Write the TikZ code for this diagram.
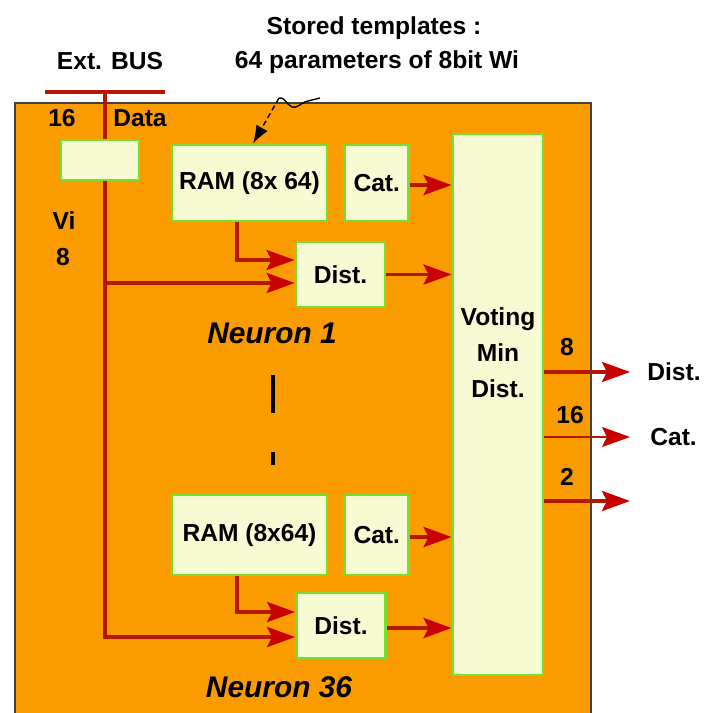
\documentclass[tikz,border=0pt]{standalone}
\usepackage{fontspec}
\setmainfont{Liberation Sans}
\usetikzlibrary{arrows.meta,positioning}

\definecolor{chiporange}{RGB}{250,155,0}
\definecolor{boxfill}{RGB}{248,250,212}
\definecolor{boxline}{RGB}{115,225,45}
\definecolor{wirered}{RGB}{180,22,0}
\definecolor{tipred}{RGB}{200,0,0}

\tikzset{
  unit/.style={draw=boxline, fill=boxfill, line width=1.6pt, inner sep=0pt,
    font=\fontsize{14}{17}\selectfont\bfseries},
  tag/.style={inner sep=0pt, font=\fontsize{14}{17}\selectfont\bfseries},
  neuronlbl/.style={inner sep=0pt, font=\fontsize{17}{20}\selectfont\bfseries\itshape},
  wire/.style={draw=wirered, line width=2.2pt},
  feed/.style={wire, -{Stealth[length=0.56cm,width=0.4cm,inset=0.1cm,color=tipred]}},
}

\begin{document}
\begin{tikzpicture}[x=0.02cm, y=-0.02cm]
  \useasboundingbox (0,0) rectangle (703,713);
  \draw[draw=black!75, fill=chiporange, line width=0.8pt] (15,103) rectangle (591,720);

  \node[tag] (tpl) at (374,28) {Stored templates :};
  \node[tag] (tpl2) at (377,62) {64 parameters of 8bit Wi};
  \node[tag] (ext) at (110,61) {Ext. BUS};
  \node[tag] (w16) at (62,118) {16};
  \node[tag] (wdata) at (140,118) {Data};
  \node[tag] (vi) at (64,221) {Vi};
  \node[tag] (v8) at (63,257) {8};

  \node[unit, minimum width=1.56cm, minimum height=0.8cm] (latch) at (100,160) {};
  \node[unit, minimum width=3.1cm, minimum height=1.52cm] (ram1) at (249.5,183) {RAM (8x 64)};
  \node[unit, minimum width=1.28cm, minimum height=1.52cm, right=0.3cm of ram1] (cat1) {Cat.};
  \node[unit, minimum width=1.78cm, minimum height=1.3cm] (dist1) at (340.5,274.5) {Dist.};
  \node[neuronlbl] (n1) at (272,333) {Neuron 1};

  \node[unit, minimum width=3.1cm, minimum height=1.6cm] (ram2) at (249.5,535) {RAM (8x64)};
  \node[unit, minimum width=1.28cm, minimum height=1.6cm, right=0.3cm of ram2] (cat2) {Cat.};
  \node[unit, minimum width=1.78cm, minimum height=1.3cm] (dist2) at (341,625.5) {Dist.};
  \node[neuronlbl] (n36) at (279,687) {Neuron 36};

  \node[unit, minimum width=1.8cm, minimum height=10.82cm] (vote) at (498,404.5) {};
  \node[tag, align=center, font=\fontsize{14}{20.5}\selectfont\bfseries] (votetxt) at (498,353) {Voting\\Min\\Dist.};

  \draw[line width=2.4pt] (273,375) -- (273,413);
  \draw[line width=2.4pt] (273,452) -- (273,465);

  \coordinate (busL) at (45,92);
  \coordinate (busR) at (165,92);
  \coordinate (bustap) at (105,92);
  \draw[wire, line width=2.8pt] (busL) -- (busR);
  \draw[wire, line width=2.8pt] (bustap) -- (bustap |- latch.north);
  \draw[feed] (bustap |- latch.south) |- ([yshift=-0.17cm]dist1.west);
  \draw[feed] (bustap |- latch.south) |- ([yshift=-0.23cm]dist2.west);

  \draw[feed] ([xshift=-0.25cm]ram1.south) |- ([yshift=0.29cm]dist1.west);
  \draw[feed] ([xshift=-0.25cm]ram2.south) |- ([yshift=0.27cm]dist2.west);
  \draw[feed] ([yshift=-0.04cm]cat1.east) -- ([yshift=-0.04cm]cat1.east -| vote.west);
  \draw[feed] (dist1.east) -- (dist1.east -| vote.west);
  \draw[feed] ([yshift=-0.04cm]cat2.east) -- ([yshift=-0.04cm]cat2.east -| vote.west);
  \draw[feed] ([yshift=-0.05cm]dist2.east) -- ([yshift=-0.05cm]dist2.east -| vote.west);

  \coordinate (memsrc) at (320,98);
  \coordinate (memkink) at (279,98);
  \draw[line width=0.8pt] (memsrc) -- (308,101) .. controls (300,103) and (297,109) .. (292,107)
    .. controls (287,105) and (284,96) .. (memkink);
  \draw[densely dashed, line width=0.8pt, -{Latex[length=0.36cm,width=0.26cm]}] (memkink) -- ([xshift=0.07cm]ram1.north);

  \node[tag] (o8) at (567,347) {8};
  \node[tag] (o16) at (570,415) {16};
  \node[tag] (o2) at (567,477) {2};
  \node[tag, anchor=west] (oDist) at (647,372) {Dist.};
  \node[tag, anchor=west] (oCat) at (650,437) {Cat.};
  \coordinate (oSpare) at (630,501);
  \draw[feed] (vote.east |- oDist) -- ([xshift=-0.34cm]oDist.west);
  \draw[feed, line width=1pt] (vote.east |- oCat) -- ([xshift=-0.4cm]oCat.west);
  \draw[feed] (vote.east |- oSpare) -- (oSpare);
\end{tikzpicture}
\end{document}
